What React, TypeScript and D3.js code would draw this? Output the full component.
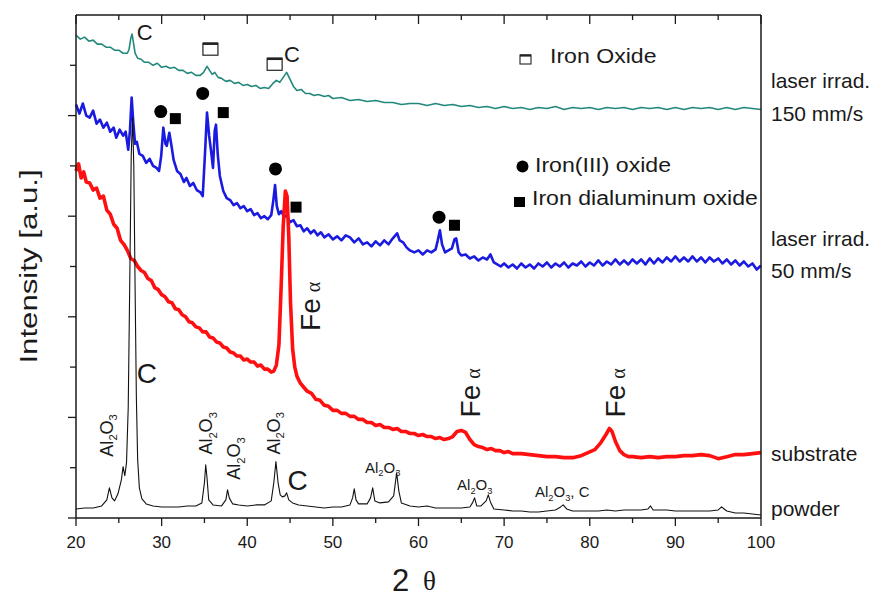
import React from 'react';
import * as d3 from 'd3';

type Pt = [number, number];

// 2θ (deg) vs intensity (a.u., offset traces)
const teal150: Pt[] = [
  [20, 480], [20.5, 476], [21, 478], [21.5, 474], [22, 475], [22.5, 471], [23, 471], [23.5, 468], [24, 468],
  [24.5, 465], [25, 465], [25.5, 462], [26, 462], [26.2, 466], [26.4, 477], [26.55, 481], [26.7, 473],
  [26.9, 462], [27.2, 457], [27.6, 456], [28, 453], [28.5, 453], [29, 450], [29.5, 452], [30, 448],
  [30.5, 449], [31, 447], [31.5, 448], [32, 445], [32.5, 445], [33, 442], [33.5, 443], [34, 440],
  [34.5, 440], [34.9, 443], [35.3, 449], [35.6, 445], [35.9, 441], [36.2, 443], [36.6, 438], [37, 437],
  [37.5, 434], [38, 435], [38.5, 432], [39, 433], [39.5, 430], [40, 431], [40.5, 429], [41, 430],
  [41.5, 427], [42, 428], [42.5, 427], [43, 432], [43.4, 435], [43.8, 433], [44.2, 438], [44.6, 443],
  [45, 436], [45.4, 429], [45.8, 425], [46.3, 426], [46.8, 422], [47.3, 422], [47.8, 420], [48.3, 421],
  [49, 419], [49.5, 420], [50, 417], [51, 418], [52, 415], [53, 416], [54, 414], [55, 415], [56, 413],
  [57, 413], [58, 411], [59, 412], [60, 412], [61, 410], [62, 412], [63, 410], [64, 411], [65, 409],
  [66, 410], [67, 408], [68, 409], [69, 407], [70, 409], [71, 407], [72, 408], [73, 406], [74, 408],
  [75, 407], [76, 409], [77, 406], [78, 408], [79, 407], [80, 408], [81, 406], [82, 408], [83, 407],
  [84, 408], [85, 406], [86, 408], [87, 407], [88, 408], [89, 406], [90, 408], [91, 406], [92, 408],
  [93, 407], [94, 408], [95, 406], [96, 408], [97, 406], [98, 408], [99, 407], [100, 406],
];

const blue50: Pt[] = [
  [20, 411], [20.4, 402], [20.8, 412], [21.2, 400], [21.6, 398], [22, 405], [22.4, 392], [22.8, 396],
  [23.2, 388], [23.6, 393], [24, 384], [24.4, 388], [24.7, 378], [25.1, 386], [25.5, 380], [25.8, 384],
  [26.1, 366], [26.3, 385], [26.5, 418], [26.7, 392], [26.9, 372], [27.1, 374], [27.4, 362], [27.8, 360],
  [28.2, 353], [28.6, 357], [29, 350], [29.4, 348], [29.7, 345], [29.95, 360], [30.2, 388], [30.45, 372],
  [30.6, 370], [30.9, 383], [31.15, 370], [31.4, 356], [31.8, 345], [32.2, 342], [32.6, 334], [32.9, 338],
  [33.3, 330], [33.7, 333], [34.1, 326], [34.5, 324], [34.8, 320], [35.05, 360], [35.3, 403], [35.55, 380],
  [35.8, 363], [36.0, 348], [36.2, 385], [36.35, 391], [36.55, 362], [36.8, 340], [37.2, 325], [37.6, 318],
  [38, 316], [38.4, 311], [38.8, 313], [39.2, 308], [39.6, 310], [40, 305], [40.4, 307], [40.8, 301],
  [41.2, 303], [41.6, 298], [42, 300], [42.4, 297], [42.8, 301], [43.05, 316], [43.25, 331], [43.45, 310],
  [43.7, 302], [44, 305], [44.3, 299], [44.6, 301], [45, 294], [45.4, 296], [45.8, 290], [46.2, 291],
  [46.6, 285], [47, 288], [47.4, 283], [47.8, 286], [48.2, 281], [48.6, 284], [49, 279], [49.5, 282],
  [50, 277], [50.5, 280], [51, 276], [51.5, 281], [52, 279], [52.5, 274], [53, 278], [53.5, 272],
  [54, 274], [54.5, 270], [55, 275], [55.5, 271], [56, 276], [56.5, 272], [57, 278], [57.5, 283],
  [57.8, 276], [58.2, 274], [58.6, 269], [59, 266], [59.5, 264], [60, 266], [60.5, 262], [61, 266],
  [61.5, 264], [62, 267], [62.25, 276], [62.5, 286], [62.75, 272], [63.1, 264], [63.5, 266], [63.9, 268],
  [64.2, 277], [64.4, 278], [64.7, 264], [65, 261], [65.5, 262], [66, 258], [66.5, 260], [67, 256],
  [67.5, 259], [68, 257], [68.4, 262], [68.8, 254], [69.2, 252], [69.6, 250], [70, 253], [70.5, 249],
  [71, 252], [71.5, 248], [72, 253], [72.5, 249], [73, 252], [73.5, 248], [74, 253], [74.5, 250],
  [75, 254], [75.5, 249], [76, 253], [76.5, 250], [77, 254], [77.5, 249], [78, 253], [78.5, 251],
  [79, 255], [79.5, 250], [80, 254], [80.5, 251], [81, 256], [81.5, 251], [82, 255], [82.5, 252],
  [83, 257], [83.5, 252], [84, 256], [84.5, 252], [85, 257], [85.5, 253], [86, 257], [86.5, 252],
  [87, 258], [87.5, 253], [88, 258], [88.5, 254], [89, 259], [89.5, 255], [90, 260], [90.5, 255],
  [91, 259], [91.5, 255], [92, 260], [92.5, 255], [93, 259], [93.5, 254], [94, 259], [94.5, 255],
  [95, 258], [95.5, 253], [96, 257], [96.5, 252], [97, 256], [97.5, 251], [98, 255], [98.5, 250],
  [99, 253], [99.5, 247], [100, 251],
];

const substrate: Pt[] = [
  [20, 345], [20.3, 352], [20.6, 338], [20.9, 344], [21.2, 334], [21.6, 333], [22, 326], [22.4, 328],
  [22.8, 318], [23.2, 320], [23.6, 306], [24, 302], [24.4, 292], [24.8, 288], [25.2, 276], [25.6, 272],
  [26, 266], [26.4, 258], [26.8, 256], [27.2, 250], [27.6, 246], [28, 244], [28.4, 238], [28.8, 236],
  [29.2, 229], [29.6, 227], [30, 222], [30.4, 220], [30.8, 215], [31.2, 214], [31.6, 208], [32, 207],
  [32.4, 202], [32.8, 200], [33.2, 195], [33.6, 194], [34, 190], [34.4, 189], [34.8, 185], [35.2, 185],
  [35.6, 180], [36, 179], [36.4, 175], [36.8, 174], [37.2, 170], [37.6, 169], [38, 165], [38.4, 164],
  [38.8, 161], [39.2, 161], [39.6, 157], [40, 158], [40.4, 155], [40.8, 155], [41.2, 151], [41.6, 152],
  [42, 148], [42.4, 148], [42.8, 145], [43.1, 146], [43.4, 152], [43.7, 172], [43.95, 228], [44.2, 290],
  [44.45, 325], [44.65, 320], [44.85, 280], [45.05, 215], [45.3, 168], [45.55, 150], [45.8, 141],
  [46.2, 134], [46.6, 130], [47, 126], [47.5, 124], [48, 118], [48.5, 117], [49, 112], [49.5, 111],
  [50, 107], [50.5, 107], [51, 104], [51.5, 104], [52, 101], [52.5, 101], [53, 98], [53.5, 98],
  [54, 95], [54.5, 95], [55, 92], [55.5, 93], [56, 90], [56.5, 90], [57, 88], [57.5, 89], [58, 86],
  [58.5, 86], [59, 84], [59.5, 84], [60, 82], [60.5, 83], [61, 81], [61.5, 81], [62, 79], [62.5, 80],
  [63, 78], [63.5, 79], [64, 81], [64.5, 86], [65, 87], [65.5, 85], [66, 78], [66.5, 73], [67, 71],
  [67.5, 70], [68, 68], [68.5, 69], [69, 67], [69.5, 67], [70, 65], [70.5, 66], [71, 64], [72, 64],
  [73, 63], [74, 62], [75, 61], [76, 61], [77, 60], [78, 60], [79, 62], [79.8, 65], [80.6, 68],
  [81.3, 75], [81.9, 83], [82.3, 89], [82.6, 86], [83, 76], [83.5, 67], [84, 63], [84.5, 61], [85, 61],
  [86, 60], [87, 61], [88, 60], [89, 61], [90, 61], [91, 62], [92, 62], [93, 63], [94, 62], [95, 59],
  [96, 61], [97, 63], [98, 63], [99, 64], [100, 65],
];

const powder: Pt[] = [
  [20, 9], [21, 10], [22, 10], [23, 12], [23.6, 18], [23.9, 30], [24.2, 20], [24.5, 17], [24.9, 24],
  [25.3, 38], [25.5, 51], [25.7, 42], [25.9, 55], [26.1, 110], [26.3, 250], [26.45, 360], [26.6, 398],
  [26.75, 350], [26.9, 230], [27.05, 120], [27.2, 58], [27.4, 30], [27.7, 19], [28.2, 14], [29, 12],
  [30, 11], [31, 11], [32, 11], [33, 12], [34, 12], [34.7, 15], [35.0, 35], [35.15, 53], [35.3, 40],
  [35.5, 18], [36, 13], [37, 12], [37.5, 18], [37.7, 28], [37.9, 20], [38.3, 14], [39, 13], [40, 12],
  [41, 13], [42, 13], [42.8, 17], [43.1, 35], [43.35, 56], [43.6, 35], [43.85, 23], [44.1, 21],
  [44.4, 22], [44.6, 25], [44.85, 18], [45.3, 15], [46, 13], [47, 12], [48, 11], [49, 10], [50, 11],
  [51, 11], [52, 13], [52.3, 20], [52.5, 29], [52.7, 18], [53, 14], [54, 14], [54.4, 20], [54.65, 30],
  [54.9, 17], [55.5, 15], [56.5, 16], [57.1, 22], [57.45, 45], [57.7, 27], [58, 15], [59, 12], [60, 11],
  [61, 12], [62, 10], [63, 10], [64, 10], [65, 10], [66, 11], [66.3, 15], [66.55, 20], [66.8, 12],
  [67.3, 12], [67.9, 17], [68.15, 23], [68.4, 16], [68.8, 9], [70, 8], [71, 7], [72, 7], [73, 6],
  [74, 6], [75, 7], [76, 8], [76.6, 11], [76.9, 13], [77.3, 9], [78, 7], [79, 7], [80, 7], [81, 7],
  [82, 8], [83, 7], [84, 8], [85, 8], [86, 8], [86.8, 9], [87.1, 12], [87.4, 8], [88, 8], [89, 8],
  [90, 7], [91, 7], [92, 7], [93, 7], [94, 7], [95, 8], [95.4, 11], [95.7, 9], [96, 7], [97, 5],
  [98, 5], [99, 4], [100, 3],
];

const xMajor = [20, 30, 40, 50, 60, 70, 80, 90, 100];
const xMinor = [25, 35, 45, 55, 65, 75, 85, 95];
const yMajor = [0, 100, 200, 300, 400];
const yMinor = [50, 150, 250, 350, 450];

// phase markers [2θ, intensity]
const circleMarks: Pt[] = [[29.9, 404], [34.8, 422], [43.3, 347], [62.4, 299]];
const squareMarks: Pt[] = [[31.6, 397], [37.2, 403], [45.7, 309], [64.2, 291]];
const openSquareMarks: Pt[] = [[35.7, 466], [43.2, 451]];

// text tags [2θ, intensity, ...]
const cTags: [number, number, number][] = [[27.1, 475, 22], [44.3, 453, 22], [27.1, 134, 28], [44.7, 28, 28]];
const feTags: Pt[] = [[48.5, 186], [67.2, 100], [84.1, 100]];
const alRotTags: Pt[] = [[24.3, 61], [35.9, 63], [39.2, 38], [43.8, 63]];
const alFlatTags: [number, number, string][] = [[53.75, 45, ''], [64.5, 28, ''], [73.6, 21, ', C']];

const traceLabels: [number, string][] = [
  [427, 'laser irrad.'], [395, '150 mm/s'], [270, 'laser irrad.'], [239, '50 mm/s'], [57, 'substrate'], [2, 'powder'],
];

const FONT = 'Liberation Sans, Arial, sans-serif';
const INK = '#1a1a1a';

export default function App() {
  const x = d3.scaleLinear().domain([20, 100]).range([76, 761]);
  const y = d3.scaleLinear().domain([0, 500]).range([518, 15]);
  const line = d3.line<Pt>().x(d => x(d[0])).y(d => y(d[1]));

  const series = [
    { data: teal150, color: '#22887c', width: 1.6 },
    { data: blue50, color: '#1a1ae0', width: 2.6 },
    { data: substrate, color: '#ff1010', width: 3.6 },
    { data: powder, color: '#111111', width: 1.1 },
  ];

  const al = (size: number) => (
    <>
      <tspan>Al</tspan>
      <tspan fontSize={size * 0.62} dy={size * 0.25}>2</tspan>
      <tspan dy={-size * 0.25}>O</tspan>
      <tspan fontSize={size * 0.62} dy={size * 0.25}>3</tspan>
    </>
  );

  return (
    <svg width={887} height={599} style={{ position: 'absolute', left: 0, top: 0, background: '#fff' }}
      fontFamily={FONT}>
      <rect width={887} height={599} fill="#fff" />

      {series.map((s, i) => (
        <path key={i} d={line(s.data) || ''} fill="none" stroke={s.color} strokeWidth={s.width}
          strokeLinejoin="round" />
      ))}

      {/* frame */}
      <g stroke={INK} strokeWidth={1.5} fill="none">
        <line x1={x(20)} x2={x(100)} y1={y(0)} y2={y(0)} />
        <line x1={x(20)} x2={x(100)} y1={y(500)} y2={y(500)} />
        <line x1={x(20)} x2={x(20)} y1={y(0)} y2={y(500)} />
        <line x1={x(100)} x2={x(100)} y1={y(0)} y2={y(500)} />
      </g>
      <g stroke={INK} strokeWidth={1.3}>
        {xMajor.map(v => <line key={'b' + v} x1={x(v)} x2={x(v)} y1={y(0)} y2={y(0) + 8} />)}
        {xMinor.map(v => <line key={'bm' + v} x1={x(v)} x2={x(v)} y1={y(0)} y2={y(0) + 5} />)}
        {xMajor.map(v => <line key={'t' + v} x1={x(v)} x2={x(v)} y1={y(500)} y2={y(500) + 9} />)}
        {xMinor.map(v => <line key={'tm' + v} x1={x(v)} x2={x(v)} y1={y(500)} y2={y(500) + 5} />)}
        {yMajor.map(v => <line key={'l' + v} x1={x(20) - 8} x2={x(20)} y1={y(v)} y2={y(v)} />)}
        {yMinor.map(v => <line key={'lm' + v} x1={x(20) - 6} x2={x(20)} y1={y(v)} y2={y(v)} />)}
      </g>
      {xMajor.map(v => (
        <text key={'xl' + v} x={x(v)} y={y(0) + 30} fontSize={17} textAnchor="middle" fill={INK}>{v}</text>
      ))}

      <text x={392} y={591} fontSize={31} fill={INK}>2</text>
      <text x={423} y={590} fontSize={27} fill={INK} fontFamily="Liberation Serif, serif">θ</text>

      <text transform={`translate(37,${y(250)}) rotate(-90) scale(1.3,1)`} fontSize={24} textAnchor="middle"
        fill={INK}>Intensity [a.u.]</text>

      {/* right-hand trace labels */}
      {traceLabels.map(([v, t], i) => (
        <text key={'tl' + i} x={x(100) + 10} y={y(v)} fontSize={20} fill={INK}
          transform={`translate(${x(100) + 10},0) scale(1.05,1) translate(${-(x(100) + 10)},0)`}>{t}</text>
      ))}

      {/* markers */}
      {circleMarks.map(([a, b], i) => <circle key={'c' + i} cx={x(a)} cy={y(b)} r={6.5} fill="#000" />)}
      {squareMarks.map(([a, b], i) => (
        <rect key={'s' + i} x={x(a) - 5.5} y={y(b) - 5.5} width={11} height={11} fill="#000" />
      ))}
      {openSquareMarks.map(([a, b], i) => (
        <g key={'o' + i}>
          <rect x={x(a) - 7.5} y={y(b) - 6} width={15} height={12} fill="none" stroke="#222" strokeWidth={1.2} />
          <line x1={x(a) - 7.5} x2={x(a) + 7.5} y1={y(b) - 5.5} y2={y(b) - 5.5} stroke="#222" strokeWidth={2.5} />
        </g>
      ))}

      {/* peak tags */}
      {cTags.map(([a, b, s], i) => (
        <text key={'ct' + i} x={x(a)} y={y(b)} fontSize={s} fill={INK}>C</text>
      ))}
      {feTags.map(([a, b], i) => (
        <text key={'fe' + i} transform={`translate(${x(a)},${y(b)}) rotate(-90)`} fontSize={28} fill={INK}>
          Fe<tspan fontSize={20} fontFamily="Liberation Serif, serif" dx={6}>α</tspan>
        </text>
      ))}
      {alRotTags.map(([a, b], i) => (
        <text key={'al' + i} transform={`translate(${x(a)},${y(b)}) rotate(-90)`} fontSize={18} fill={INK}>
          {al(18)}
        </text>
      ))}
      {alFlatTags.map(([a, b, extra], i) => (
        <text key={'af' + i} x={x(a)} y={y(b)} fontSize={15} fill={INK}>
          {al(15)}
          {extra && <tspan dy={-15 * 0.25}>{extra}</tspan>}
        </text>
      ))}

      {/* legend */}
      <g fill={INK}>
        <rect x={520} y={55} width={11} height={9} fill="none" stroke="#222" strokeWidth={1.1} />
        <line x1={520} x2={531} y1={55.5} y2={55.5} stroke="#222" strokeWidth={2.2} />
        <text transform="translate(550,62.5) scale(1.1,1)" fontSize={21}>Iron Oxide</text>
        <circle cx={522.5} cy={166.5} r={6} fill="#000" />
        <text transform="translate(535,171.5) scale(1.1,1)" fontSize={21}>Iron(III) oxide</text>
        <rect x={514} y={197} width={11} height={10} fill="#000" />
        <text transform="translate(532,205) scale(1.1,1)" fontSize={21}>Iron dialuminum oxide</text>
      </g>
    </svg>
  );
}
